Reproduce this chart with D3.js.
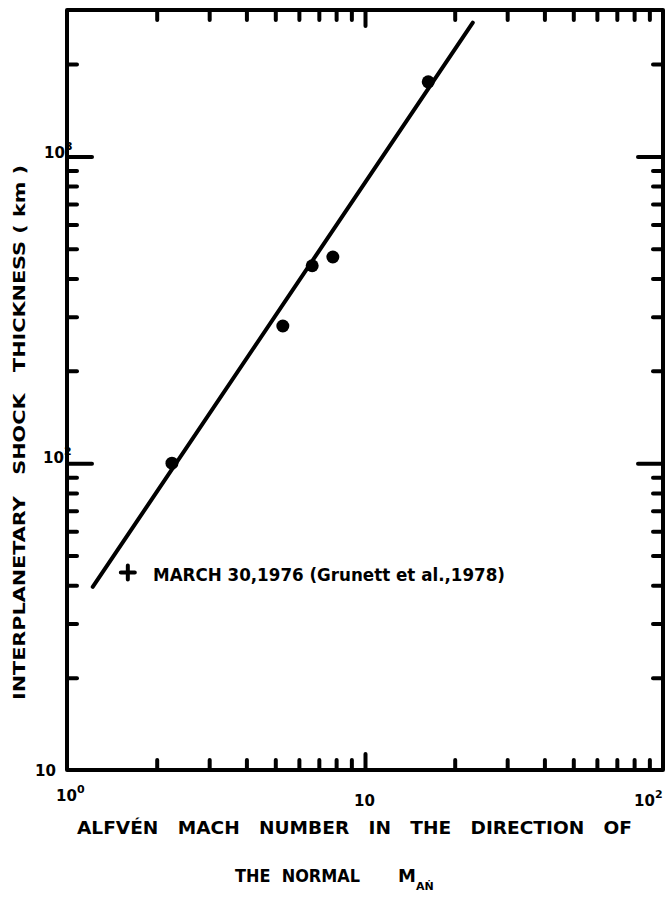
<!DOCTYPE html>
<html>
<head>
<meta charset="utf-8">
<script src="https://cdn.jsdelivr.net/npm/d3@7"></script>
<style>
  body { margin: 0; background: #fff; }
  text { font-family: "DejaVu Sans", sans-serif; font-weight: bold; fill: #000; white-space: pre; }
</style>
</head>
<body>
<script>
// measured points (Alfven Mach number vs shock thickness)
var machNumbers = [2.25, 5.3, 6.65, 7.8, 16.3];
var thickness = [100, 280, 440, 470, 1750];

// fitted line end points
var fitMach = [1.22, 23];
var fitThickness = [39.5, 2730];

// the March 30, 1976 event
var crossMach = [1.6];
var crossThickness = [44];

var xMajor = [1, 10, 100];
var xMinor = [2, 3, 4, 5, 6, 7, 8, 9, 20, 30, 40, 50, 60, 70, 80, 90];
var yMajor = [10, 100, 1000];
var yMinor = [20, 30, 40, 50, 60, 70, 80, 90, 200, 300, 400, 500, 600, 700, 800, 900, 2000];

var w = 667, h = 898;

var svg = d3.select("body")
	.append("svg")
	.attr("width", w)
	.attr("height", h);

var x = d3.scaleLog().domain([1, 100]).range([67, 663]);
var y = d3.scaleLog().domain([10, 3000]).range([770, 10]);

function styleAxis(g) {
	g.select(".domain").remove();
	g.selectAll(".tick line")
		.attr("stroke", "#000")
		.attr("stroke-width", 4)
		.attr("stroke-linecap", "round");
	g.selectAll(".tick text").remove();
}

// ticks, all pointing inward
svg.append("g").attr("transform", "translate(0," + y(10) + ")")
	.call(d3.axisBottom(x).tickValues(xMinor).tickSize(-10)).call(styleAxis);
svg.append("g").attr("transform", "translate(0," + y(10) + ")")
	.call(d3.axisBottom(x).tickValues([10]).tickSize(-16)).call(styleAxis);
svg.append("g").attr("transform", "translate(0," + y(3000) + ")")
	.call(d3.axisTop(x).tickValues(xMinor).tickSize(-10)).call(styleAxis);
svg.append("g").attr("transform", "translate(0," + y(3000) + ")")
	.call(d3.axisTop(x).tickValues([10]).tickSize(-16)).call(styleAxis);

svg.append("g").attr("transform", "translate(" + x(1) + ",0)")
	.call(d3.axisLeft(y).tickValues(yMinor).tickSize(-10)).call(styleAxis);
svg.append("g").attr("transform", "translate(" + x(1) + ",0)")
	.call(d3.axisLeft(y).tickValues([100, 1000]).tickSize(-25)).call(styleAxis);
svg.append("g").attr("transform", "translate(" + x(100) + ",0)")
	.call(d3.axisRight(y).tickValues(yMinor).tickSize(-10)).call(styleAxis);
svg.append("g").attr("transform", "translate(" + x(100) + ",0)")
	.call(d3.axisRight(y).tickValues([100, 1000]).tickSize(-25)).call(styleAxis);

// frame
svg.append("rect")
	.attr("x", x(1)).attr("y", y(3000))
	.attr("width", x(100) - x(1)).attr("height", y(10) - y(3000))
	.attr("fill", "none").attr("stroke", "#000").attr("stroke-width", 4)
	.attr("stroke-linejoin", "round");

// fitted line
svg.append("line")
	.attr("x1", x(fitMach[0])).attr("y1", y(fitThickness[0]))
	.attr("x2", x(fitMach[1])).attr("y2", y(fitThickness[1]))
	.attr("stroke", "#000").attr("stroke-width", 4).attr("stroke-linecap", "round");

// data points
svg.selectAll("circle")
	.data(machNumbers)
	.enter()
	.append("circle")
	.attr("cx", function(d) { return x(d); })
	.attr("cy", function(d, i) { return y(thickness[i]); })
	.attr("r", 6.5)
	.attr("fill", "#000");

// cross marker
var cx = x(crossMach[0]), cy = y(crossThickness[0]);
svg.append("path")
	.attr("d", "M" + (cx - 7) + "," + cy + "h14M" + cx + "," + (cy - 7) + "v14")
	.attr("stroke", "#000").attr("stroke-width", 4).attr("stroke-linecap", "round");

svg.append("text")
	.attr("x", 153).attr("y", 581)
	.attr("font-size", 17)
	.attr("textLength", 352).attr("lengthAdjust", "spacingAndGlyphs")
	.text("MARCH 30,1976 (Grunett et al.,1978)");

// tick labels
function powLabel(px, py, exp, size) {
	var t = svg.append("text").attr("x", px).attr("y", py).attr("font-size", size || 15);
	t.append("tspan").text("10");
	if (exp) t.append("tspan").attr("dy", -8).attr("font-size", 11).text(exp);
}
powLabel(35, 776, "");
powLabel(56, 801, "0");
powLabel(354, 806, "");
powLabel(634, 806, "2");
powLabel(43, 463, "2");
powLabel(44, 158, "3");

// axis titles
svg.append("text")
	.attr("x", 77).attr("y", 834)
	.attr("font-size", 18)
	.attr("textLength", 555).attr("lengthAdjust", "spacingAndGlyphs")
	.text("ALFVÉN   MACH   NUMBER   IN   THE   DIRECTION   OF");

var t2 = svg.append("text")
	.attr("x", 235).attr("y", 882)
	.attr("font-size", 18);
t2.append("tspan").attr("textLength", 125).attr("lengthAdjust", "spacingAndGlyphs").text("THE  NORMAL");
t2.append("tspan").attr("dx", 38).text("M");
t2.append("tspan").attr("dy", 8).attr("font-size", 11).text("AṄ");

svg.append("text")
	.attr("transform", "translate(25,700) rotate(-90)")
	.attr("font-size", 16)
	.attr("textLength", 535).attr("lengthAdjust", "spacingAndGlyphs")
	.text("INTERPLANETARY   SHOCK   THICKNESS ( km )");
</script>
</body>
</html>
